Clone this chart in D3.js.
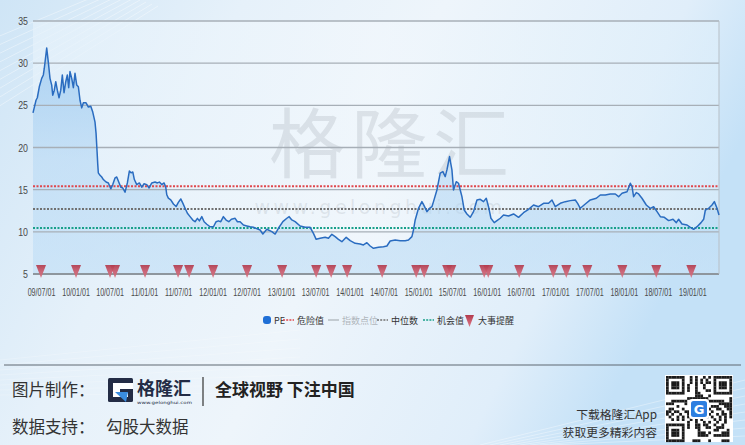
<!DOCTYPE html>
<html><head><meta charset="utf-8">
<script src="https://cdn.jsdelivr.net/npm/d3@7"></script>
<style>html,body{margin:0;padding:0;overflow:hidden;}svg{display:block;}</style>
</head><body>
<svg id="c" width="745" height="445"></svg>
<script>
// ---------- data ----------
const peYears = [2009.379,2009.423,2009.442,2009.471,2009.506,2009.530,2009.544,2009.579,2009.603,2009.627,2009.652,2009.667,2009.690,2009.711,2009.734,2009.759,2009.784,2009.807,2009.832,2009.857,2009.880,2009.900,2009.919,2009.944,2009.968,2009.992,2010.017,2010.041,2010.065,2010.090,2010.114,2010.153,2010.187,2010.222,2010.251,2010.284,2010.299,2010.314,2010.324,2010.332,2010.357,2010.382,2010.406,2010.445,2010.479,2010.514,2010.543,2010.577,2010.601,2010.630,2010.660,2010.689,2010.722,2010.756,2010.785,2010.810,2010.835,2010.858,2010.893,2010.931,2010.966,2011.000,2011.039,2011.073,2011.112,2011.160,2011.194,2011.223,2011.258,2011.292,2011.316,2011.331,2011.354,2011.389,2011.428,2011.467,2011.500,2011.535,2011.565,2011.598,2011.632,2011.671,2011.711,2011.744,2011.778,2011.807,2011.842,2011.876,2011.915,2011.963,2012.012,2012.051,2012.084,2012.119,2012.157,2012.197,2012.236,2012.274,2012.328,2012.362,2012.401,2012.449,2012.499,2012.547,2012.595,2012.693,2012.733,2012.791,2012.864,2012.912,2012.960,2013.025,2013.083,2013.117,2013.156,2013.204,2013.277,2013.350,2013.423,2013.471,2013.511,2013.569,2013.642,2013.690,2013.740,2013.788,2013.836,2013.886,2013.949,2014.007,2014.080,2014.153,2014.201,2014.251,2014.299,2014.347,2014.420,2014.493,2014.543,2014.591,2014.664,2014.737,2014.810,2014.858,2014.908,2014.931,2014.956,2015.004,2015.054,2015.087,2015.127,2015.165,2015.200,2015.223,2015.273,2015.321,2015.360,2015.394,2015.419,2015.457,2015.492,2015.515,2015.555,2015.588,2015.613,2015.638,2015.671,2015.711,2015.759,2015.807,2015.857,2015.905,2015.953,2015.993,2016.026,2016.061,2016.109,2016.149,2016.197,2016.245,2016.318,2016.391,2016.464,2016.537,2016.610,2016.683,2016.756,2016.829,2016.902,2016.952,2017.000,2017.073,2017.146,2017.219,2017.292,2017.326,2017.365,2017.438,2017.511,2017.599,2017.657,2017.730,2017.803,2017.876,2017.924,2017.974,2018.047,2018.095,2018.120,2018.143,2018.182,2018.216,2018.265,2018.328,2018.387,2018.435,2018.485,2018.533,2018.591,2018.654,2018.718,2018.766,2018.800,2018.849,2018.923,2018.971,2019.019,2019.069,2019.127,2019.165,2019.190,2019.238,2019.287,2019.321,2019.360,2019.389];
const peValues = [24.1,25.6,25.9,27.2,28.2,28.6,29.4,31.8,30.1,28.2,27.4,26.2,26.8,27.8,26.8,25.9,26.8,28.6,26.5,27.8,28.6,27.1,29.0,28.2,27.1,28.8,27.4,27.2,25.6,24.7,25.3,25.3,24.8,24.9,24.2,23.0,21.7,19.5,18.0,17.0,16.7,16.5,16.2,15.9,15.8,15.1,15.6,16.4,16.5,15.9,15.3,15.2,14.7,15.8,17.2,17.0,17.1,16.2,15.6,15.8,15.3,15.7,15.6,15.2,15.8,15.9,15.8,15.9,15.6,15.8,15.3,14.4,14.0,13.8,13.3,13.0,13.5,13.9,13.4,12.8,12.2,11.8,11.4,11.2,11.6,11.3,11.8,11.2,10.9,10.6,10.6,11.2,11.3,11.2,11.8,11.4,11.2,11.5,11.6,11.2,11.2,10.8,10.7,10.6,10.54,10.22,9.74,10.30,10.02,9.74,10.42,11.21,11.61,11.80,11.41,11.21,10.69,10.54,10.54,9.82,9.11,9.23,9.35,9.23,9.70,9.43,9.11,8.83,9.35,8.95,8.64,8.56,8.44,8.71,8.32,8.05,8.17,8.24,8.32,8.91,9.03,8.95,8.95,9.03,9.43,10.22,11.41,12.79,13.58,13.07,12.39,12.79,12.98,13.58,14.96,16.95,17.14,16.55,17.34,18.92,17.34,14.96,15.95,15.76,14.96,14.17,12.59,12.12,11.72,12.39,13.78,13.86,13.58,13.98,12.98,11.61,11.09,11.33,11.61,12.00,11.88,12.12,11.72,12.27,12.67,13.18,12.98,13.38,13.38,13.78,12.98,13.38,13.58,13.70,13.78,13.38,12.79,13.30,13.78,13.98,14.37,14.37,14.49,14.49,14.17,14.57,14.76,15.76,15.36,14.17,14.65,14.49,13.98,13.18,12.79,12.98,12.39,11.80,11.72,11.33,11.49,11.09,11.49,10.93,10.81,10.54,10.30,10.61,11.09,11.49,12.59,12.79,13.18,13.58,12.79,12.00];
const eventYears = [2009.496,2010.007,2010.503,2010.576,2011.014,2011.496,2011.657,2012.007,2012.503,2013.014,2013.511,2013.730,2013.963,2014.474,2014.971,2015.087,2015.423,2015.482,2015.963,2016.022,2016.474,2016.971,2017.161,2017.467,2017.978,2018.474,2018.985];
const xTickLabels = ["09/07/01","10/01/01","10/07/01","11/01/01","11/07/01","12/01/01","12/07/01","13/01/01","13/07/01","14/01/01","14/07/01","15/01/01","15/07/01","16/01/01","16/07/01","17/01/01","17/07/01","18/01/01","18/07/01","19/01/01"];
const yTicks = [5,10,15,20,25,30,35];
const dangerValue = 15.4;
const medianValue = 12.7;
const chanceValue = 10.45;
const legendItems = ["PE","危险值","指数点位","中位数","机会值","大事提醒"];

// ---------- setup ----------
const svg = d3.select("#c");
const W = 745, H = 445;
const defs = svg.append("defs");
const numFont = "'Liberation Sans','DejaVu Sans',Arial,sans-serif";
const cjk = "'Noto Sans CJK SC','Noto Sans',sans-serif";

const bg = defs.append("linearGradient").attr("id","bg").attr("x1",0).attr("x2",1).attr("y1",0).attr("y2",0.3);
[[0,"#cfe5f6"],[0.3,"#e6f1fa"],[0.55,"#eef5fb"],[0.85,"#e0eefa"],[1,"#c4e1f7"]].forEach(s=>bg.append("stop").attr("offset",s[0]).attr("stop-color",s[1]));
svg.append("rect").attr("width",W).attr("height",H).attr("fill","url(#bg)");

// decorative diagonal lines
const deco = svg.append("g").attr("stroke","#ffffff").attr("stroke-opacity",0.55).attr("stroke-width",0.7).attr("fill","none");
for (let i=0;i<9;i++){ deco.append("line").attr("x1",-10).attr("y1",40+i*9).attr("x2",110+i*6).attr("y2",-10+i*2); }
const deco2 = svg.append("g").attr("stroke","#ffffff").attr("stroke-opacity",0.5).attr("stroke-width",0.7);
for (let i=0;i<8;i++){ deco2.append("line").attr("x1",480+i*10).attr("y1",445).attr("x2",745).attr("y2",380+i*8); }
for (let i=0;i<8;i++){ deco2.append("line").attr("x1",0).attr("y1",360+i*5).attr("x2",300).attr("y2",330+i*9).attr("stroke-opacity",0.3); }

const x = d3.scaleLinear().domain([peYears[0], peYears[peYears.length-1]]).range([33, 719]);
const y = d3.scaleLinear().domain([5, 35]).range([274, 21]);

// plot background
const pbg = defs.append("linearGradient").attr("id","pbg").attr("x1",0).attr("x2",1).attr("y1",0).attr("y2",0);
[[0,"#e6f2fb"],[0.5,"#f1f7fc"],[1,"#ddeefa"]].forEach(s=>pbg.append("stop").attr("offset",s[0]).attr("stop-color",s[1]));
svg.append("rect").attr("x",33).attr("y",21).attr("width",686).attr("height",253).attr("fill","url(#pbg)").attr("opacity",0.7);

// watermark
svg.append("text").attr("x",392).attr("y",172).attr("text-anchor","middle")
  .attr("font-family",cjk).attr("font-size",76).attr("letter-spacing",6)
  .attr("fill","#9aa3ab").attr("fill-opacity",0.25).text("格隆汇");
svg.append("text").attr("x",380).attr("y",214).attr("text-anchor","middle")
  .attr("font-family","'DejaVu Sans',sans-serif").attr("font-size",19).attr("letter-spacing",3.5)
  .attr("fill","#9aa3ab").attr("fill-opacity",0.22).text("www.gelonghui.com");

// area
const ag = defs.append("linearGradient").attr("id","ag").attr("x1",0).attr("x2",0).attr("y1",0).attr("y2",1);
[[0,"#8fc2ee",0.65],[0.5,"#a9d1f2",0.5],[1,"#b8daf5",0.55]].forEach(s=>ag.append("stop").attr("offset",s[0]).attr("stop-color",s[1]).attr("stop-opacity",s[2]));
const pts = peYears.map((t,i)=>[t, peValues[i]]);
svg.append("path").datum(pts).attr("fill","url(#ag)")
  .attr("d", d3.area().x(d=>x(d[0])).y0(y(5)).y1(d=>y(d[1])));

// grid
yTicks.forEach(v=>{
  svg.append("line").attr("x1",33).attr("x2",719).attr("y1",y(v)).attr("y2",y(v))
    .attr("stroke", v===5 ? "#8e969d" : "#a7afb7").attr("stroke-width", v===5 ? 2 : 1.4);
});
svg.append("line").attr("x1",719).attr("x2",719).attr("y1",y(35)).attr("y2",y(5)).attr("stroke","#b7bfc6").attr("stroke-width",1);

// y axis labels
const yAxis = d3.axisLeft(y).tickValues(yTicks).tickSize(0).tickPadding(0);
const yg = svg.append("g").attr("transform","translate(28,0)").call(yAxis);
yg.select(".domain").remove();
yg.selectAll("text").attr("font-family",numFont).attr("font-size",11).attr("fill","#4a4a4a")
  .attr("x",0).attr("transform","scale(0.8,1)");

// x axis labels
const tickYears = xTickLabels.map(s=>{const p=s.split("/"); return 2000+(+p[0]) + (p[1]==="07"?0.496:0);});
const xAxis = d3.axisBottom(x).tickValues(tickYears).tickSize(0).tickPadding(0)
  .tickFormat((d,i)=>xTickLabels[i]);
const xg = svg.append("g").attr("transform","translate(0,289)").call(xAxis);
xg.select(".domain").remove();
xg.selectAll("text").attr("font-family",numFont).attr("font-size",10.5).attr("fill","#4a4a4a")
  .attr("x",0).attr("transform","scale(0.68,1)");

// reference lines
[[dangerValue,"#e0474c"],[medianValue,"#707070"],[chanceValue,"#18a08a"]].forEach(r=>{
  svg.append("line").attr("x1",33).attr("x2",719).attr("y1",y(r[0])).attr("y2",y(r[0]))
    .attr("stroke",r[1]).attr("stroke-width",2).attr("stroke-dasharray","2,1.5");
});

// PE line
svg.append("path").datum(pts).attr("fill","none").attr("stroke","#2a6cc0").attr("stroke-width",1.5)
  .attr("stroke-linejoin","round")
  .attr("d", d3.line().x(d=>x(d[0])).y(d=>y(d[1])));

// event triangles
const tg = defs.append("linearGradient").attr("id","tg").attr("x1",0).attr("x2",0).attr("y1",0).attr("y2",1);
[[0,"#b23a4c"],[0.45,"#c9586a"],[1,"#d87a88"]].forEach(s=>tg.append("stop").attr("offset",s[0]).attr("stop-color",s[1]));
svg.append("g").selectAll("path").data(eventYears).join("path")
  .attr("d", d=>{const cx=x(d); return `M${cx-5},265 L${cx+5},265 L${cx},278 Z`;})
  .attr("fill","url(#tg)").attr("opacity",0.92);

// legend
const lg = svg.append("g").attr("font-family",cjk).attr("font-size",9);
lg.append("rect").attr("x",263).attr("y",316).attr("width",8).attr("height",8).attr("rx",3).attr("fill","#1f6fd6");
lg.append("text").attr("x",274).attr("y",323.5).attr("fill","#333").text(legendItems[0]);
const dashItems = [[283,"#e0474c",legendItems[1],"#333","2,1.2"],[328,"#b9c0c7",legendItems[2],"#b0b6bc",null],[377,"#707070",legendItems[3],"#333","2,1.2"],[423,"#18a08a",legendItems[4],"#333","2,1.2"]];
dashItems.forEach(it=>{
  const l = lg.append("line").attr("x1",it[0]).attr("x2",it[0]+11).attr("y1",320).attr("y2",320).attr("stroke",it[1]).attr("stroke-width",1.6);
  if (it[4]) l.attr("stroke-dasharray",it[4]);
  lg.append("text").attr("x",it[0]+14).attr("y",323.5).attr("fill",it[3]).text(it[2]);
});
lg.append("path").attr("d","M465,315 L474,315 L469.5,327 Z").attr("fill","url(#tg)");
lg.append("text").attr("x",478).attr("y",323.5).attr("fill","#333").text(legendItems[5]);

// footer
svg.append("line").attr("x1",4).attr("x2",741).attr("y1",365).attr("y2",365).attr("stroke","#5e6872").attr("stroke-width",1.2);
const ft = svg.append("g").attr("font-family",cjk).attr("fill","#333");
ft.append("text").attr("x",12).attr("y",396).attr("font-size",16.5).text("图片制作：");
ft.append("text").attr("x",12).attr("y",433).attr("font-size",16.5).text("数据支持：");
ft.append("text").attr("x",106).attr("y",433).attr("font-size",16.5).text("勾股大数据");
// logo
const lo = svg.append("g");
lo.append("rect").attr("x",108).attr("y",378).attr("width",25).attr("height",24).attr("rx",1.5).attr("fill","#232c45");
lo.append("rect").attr("x",113).attr("y",383).attr("width",15).attr("height",14).attr("fill","#ffffff");
lo.append("rect").attr("x",128).attr("y",383).attr("width",5).attr("height",6).attr("fill","#ffffff");
lo.append("rect").attr("x",120).attr("y",389).attr("width",13).attr("height",4).attr("fill","#232c45");
lo.append("path").attr("d","M115,392 L128,392 L126,402 Z").attr("fill","#3a8de0");
ft.append("text").attr("x",137).attr("y",395).attr("font-size",18).attr("font-weight","bold").attr("fill","#232c45").text("格隆汇");
ft.append("text").attr("x",137).attr("y",404).attr("font-size",4.2).attr("font-family","'DejaVu Sans',sans-serif").attr("fill","#232c45")
  .attr("textLength",55).attr("lengthAdjust","spacingAndGlyphs").text("www.gelonghui.com");
svg.append("line").attr("x1",203).attr("x2",203).attr("y1",377).attr("y2",406).attr("stroke","#333").attr("stroke-width",1.2);
ft.append("text").attr("x",215).attr("y",396).attr("font-size",17).attr("font-weight","bold").attr("fill","#222").text("全球视野 下注中国");
ft.append("text").attr("x",657).attr("y",419).attr("text-anchor","end").attr("font-size",11.8).text("下载格隆汇App");
ft.append("text").attr("x",657).attr("y",437).attr("text-anchor","end").attr("font-size",11.8).text("获取更多精彩内容");

// QR code (decorative)
const qr = svg.append("g").attr("transform","translate(666,376)");
qr.append("rect").attr("x",-1).attr("y",-1).attr("width",68).attr("height",67).attr("fill","#ffffff");
const N = 25, cs = 66/N;
for (let i=0;i<N;i++) for (let j=0;j<N;j++){
  const inFinder = (i<7&&j<7)||(i<7&&j>=N-7)||(i>=N-7&&j<7);
  let on;
  if (inFinder){
    const a = i<7?i:i-(N-7), b = j<7?j:j-(N-7);
    on = (a===0||a===6||b===0||b===6)||(a>=2&&a<=4&&b>=2&&b<=4);
  } else if ((i===7&&(j<8||j>=N-8))||(j===7&&(i<8||i>=N-8))||(i===N-8&&j<8)||(j===N-8&&i<8)) { on=false; }
  else { on = ((i*7+j*13+i*j*3+((i^j)*5))%7) < 3; }
  if (on) qr.append("rect").attr("x",j*cs).attr("y",i*cs).attr("width",cs+0.1).attr("height",cs+0.1).attr("fill","#1b1b1b");
}
qr.append("rect").attr("x",23).attr("y",23).attr("width",20).attr("height",20).attr("rx",3).attr("fill","#ffffff");
qr.append("rect").attr("x",25).attr("y",25).attr("width",16).attr("height",16).attr("rx",2.5).attr("fill","#2d7fe0");
qr.append("text").attr("x",33).attr("y",38).attr("text-anchor","middle").attr("font-family","'DejaVu Sans',sans-serif").attr("font-weight","bold").attr("font-size",13).attr("fill","#fff").text("G");
</script>
</body></html>
